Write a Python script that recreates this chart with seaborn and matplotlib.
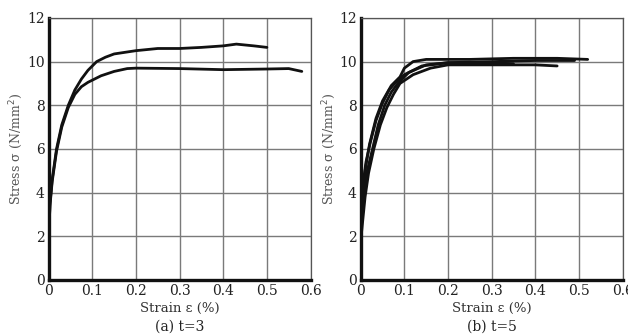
import numpy as np
import pandas as pd
import matplotlib
matplotlib.use('Agg')
import matplotlib.pyplot as plt
import seaborn as sns

# (a) t=3 : two specimens
a1_strain = [0, 0.003, 0.008, 0.018, 0.03, 0.045, 0.06, 0.075, 0.09, 0.11, 0.13, 0.15, 0.2, 0.25, 0.3, 0.35, 0.4, 0.43, 0.47, 0.5]
a1_stress = [2.0, 3.5, 4.6, 6.0, 7.1, 8.0, 8.7, 9.2, 9.6, 10.0, 10.2, 10.35, 10.5, 10.6, 10.6, 10.65, 10.72, 10.8, 10.72, 10.65]
a2_strain = [0, 0.003, 0.008, 0.018, 0.03, 0.045, 0.06, 0.075, 0.09, 0.12, 0.15, 0.18, 0.2, 0.3, 0.4, 0.5, 0.55, 0.58]
a2_stress = [2.0, 3.4, 4.5, 5.9, 7.0, 7.9, 8.5, 8.85, 9.05, 9.35, 9.55, 9.68, 9.7, 9.68, 9.63, 9.66, 9.68, 9.55]

# (b) t=5 : four specimens
b1_strain = [0, 0.004, 0.01, 0.02, 0.035, 0.05, 0.07, 0.09, 0.1, 0.12, 0.15, 0.25, 0.35, 0.45, 0.52]
b1_stress = [1.5, 3.5, 5.0, 6.2, 7.4, 8.2, 8.9, 9.3, 9.7, 10.0, 10.1, 10.1, 10.15, 10.15, 10.1]
b2_strain = [0, 0.008, 0.015, 0.027, 0.04, 0.055, 0.07, 0.085, 0.11, 0.15, 0.2, 0.3, 0.4, 0.49]
b2_stress = [2.5, 4.0, 5.0, 6.0, 7.1, 8.0, 8.6, 9.0, 9.5, 9.85, 9.95, 10.0, 10.05, 10.05]
b3_strain = [0, 0.01, 0.018, 0.03, 0.045, 0.06, 0.075, 0.09, 0.12, 0.16, 0.2, 0.3, 0.4, 0.45]
b3_stress = [1.8, 3.8, 4.9, 6.0, 7.1, 7.9, 8.5, 9.0, 9.4, 9.7, 9.85, 9.85, 9.85, 9.8]
b4_strain = [0, 0.006, 0.012, 0.022, 0.035, 0.05, 0.065, 0.08, 0.1, 0.14, 0.2, 0.3, 0.35]
b4_stress = [3.0, 4.5, 5.4, 6.3, 7.3, 8.1, 8.7, 9.05, 9.4, 9.8, 9.95, 9.95, 9.9]

x_ticks = [0, 0.1, 0.2, 0.3, 0.4, 0.5, 0.6]
x_labels = ['0', '0.1', '0.2', '0.3', '0.4', '0.5', '0.6']
y_ticks = [0, 2, 4, 6, 8, 10, 12]
captions = ['(a) t=3', '(b) t=5']


def to_frame(curves):
    parts = []
    for i, (x, y) in enumerate(curves):
        parts.append(pd.DataFrame({'strain': x, 'stress': y, 'spec': 'S%d' % (i + 1)}))
    return pd.concat(parts, ignore_index=True)


panels = [
    to_frame([(a1_strain, a1_stress), (a2_strain, a2_stress)]),
    to_frame([(b1_strain, b1_stress), (b2_strain, b2_stress), (b3_strain, b3_stress), (b4_strain, b4_stress)]),
]

sns.set_style('white')
plt.rcParams['font.family'] = ['DejaVu Serif']

fig = plt.figure(figsize=(6.28, 3.36), dpi=100)
lefts = [0.0775, 0.5744]

for k, df in enumerate(panels):
    ax = fig.add_axes([lefts[k], 0.1667, 0.417, 0.78])
    n = df['spec'].nunique()
    sns.lineplot(data=df, x='strain', y='stress', hue='spec', estimator=None,
                 sort=False, palette=['#111111'] * n, linewidth=2.0, legend=False, ax=ax)
    ax.set_xlim(0, 0.6)
    ax.set_ylim(0, 12)
    ax.set_xticks(x_ticks)
    ax.set_xticklabels(x_labels)
    ax.set_yticks(y_ticks)
    ax.grid(True, color='#7a7a7a', linewidth=1.0)
    ax.set_axisbelow(True)
    ax.tick_params(length=0, pad=3, labelsize=10, colors='#222222')
    for s in ['left', 'bottom']:
        ax.spines[s].set_linewidth(2.4)
        ax.spines[s].set_color('#111111')
    for s in ['top', 'right']:
        ax.spines[s].set_linewidth(0.9)
        ax.spines[s].set_color('#555555')
    ax.set_xlabel('Strain ε (%)', fontsize=9.5, color='#333333', labelpad=3)
    ax.set_ylabel('Stress σ (N/mm$^2$)', fontsize=9, color='#555555', labelpad=1)
    ax.text(0.5, -0.178, captions[k], transform=ax.transAxes, ha='center', va='center',
            fontsize=10, color='#222222')

fig.savefig('out.png', dpi=100)
